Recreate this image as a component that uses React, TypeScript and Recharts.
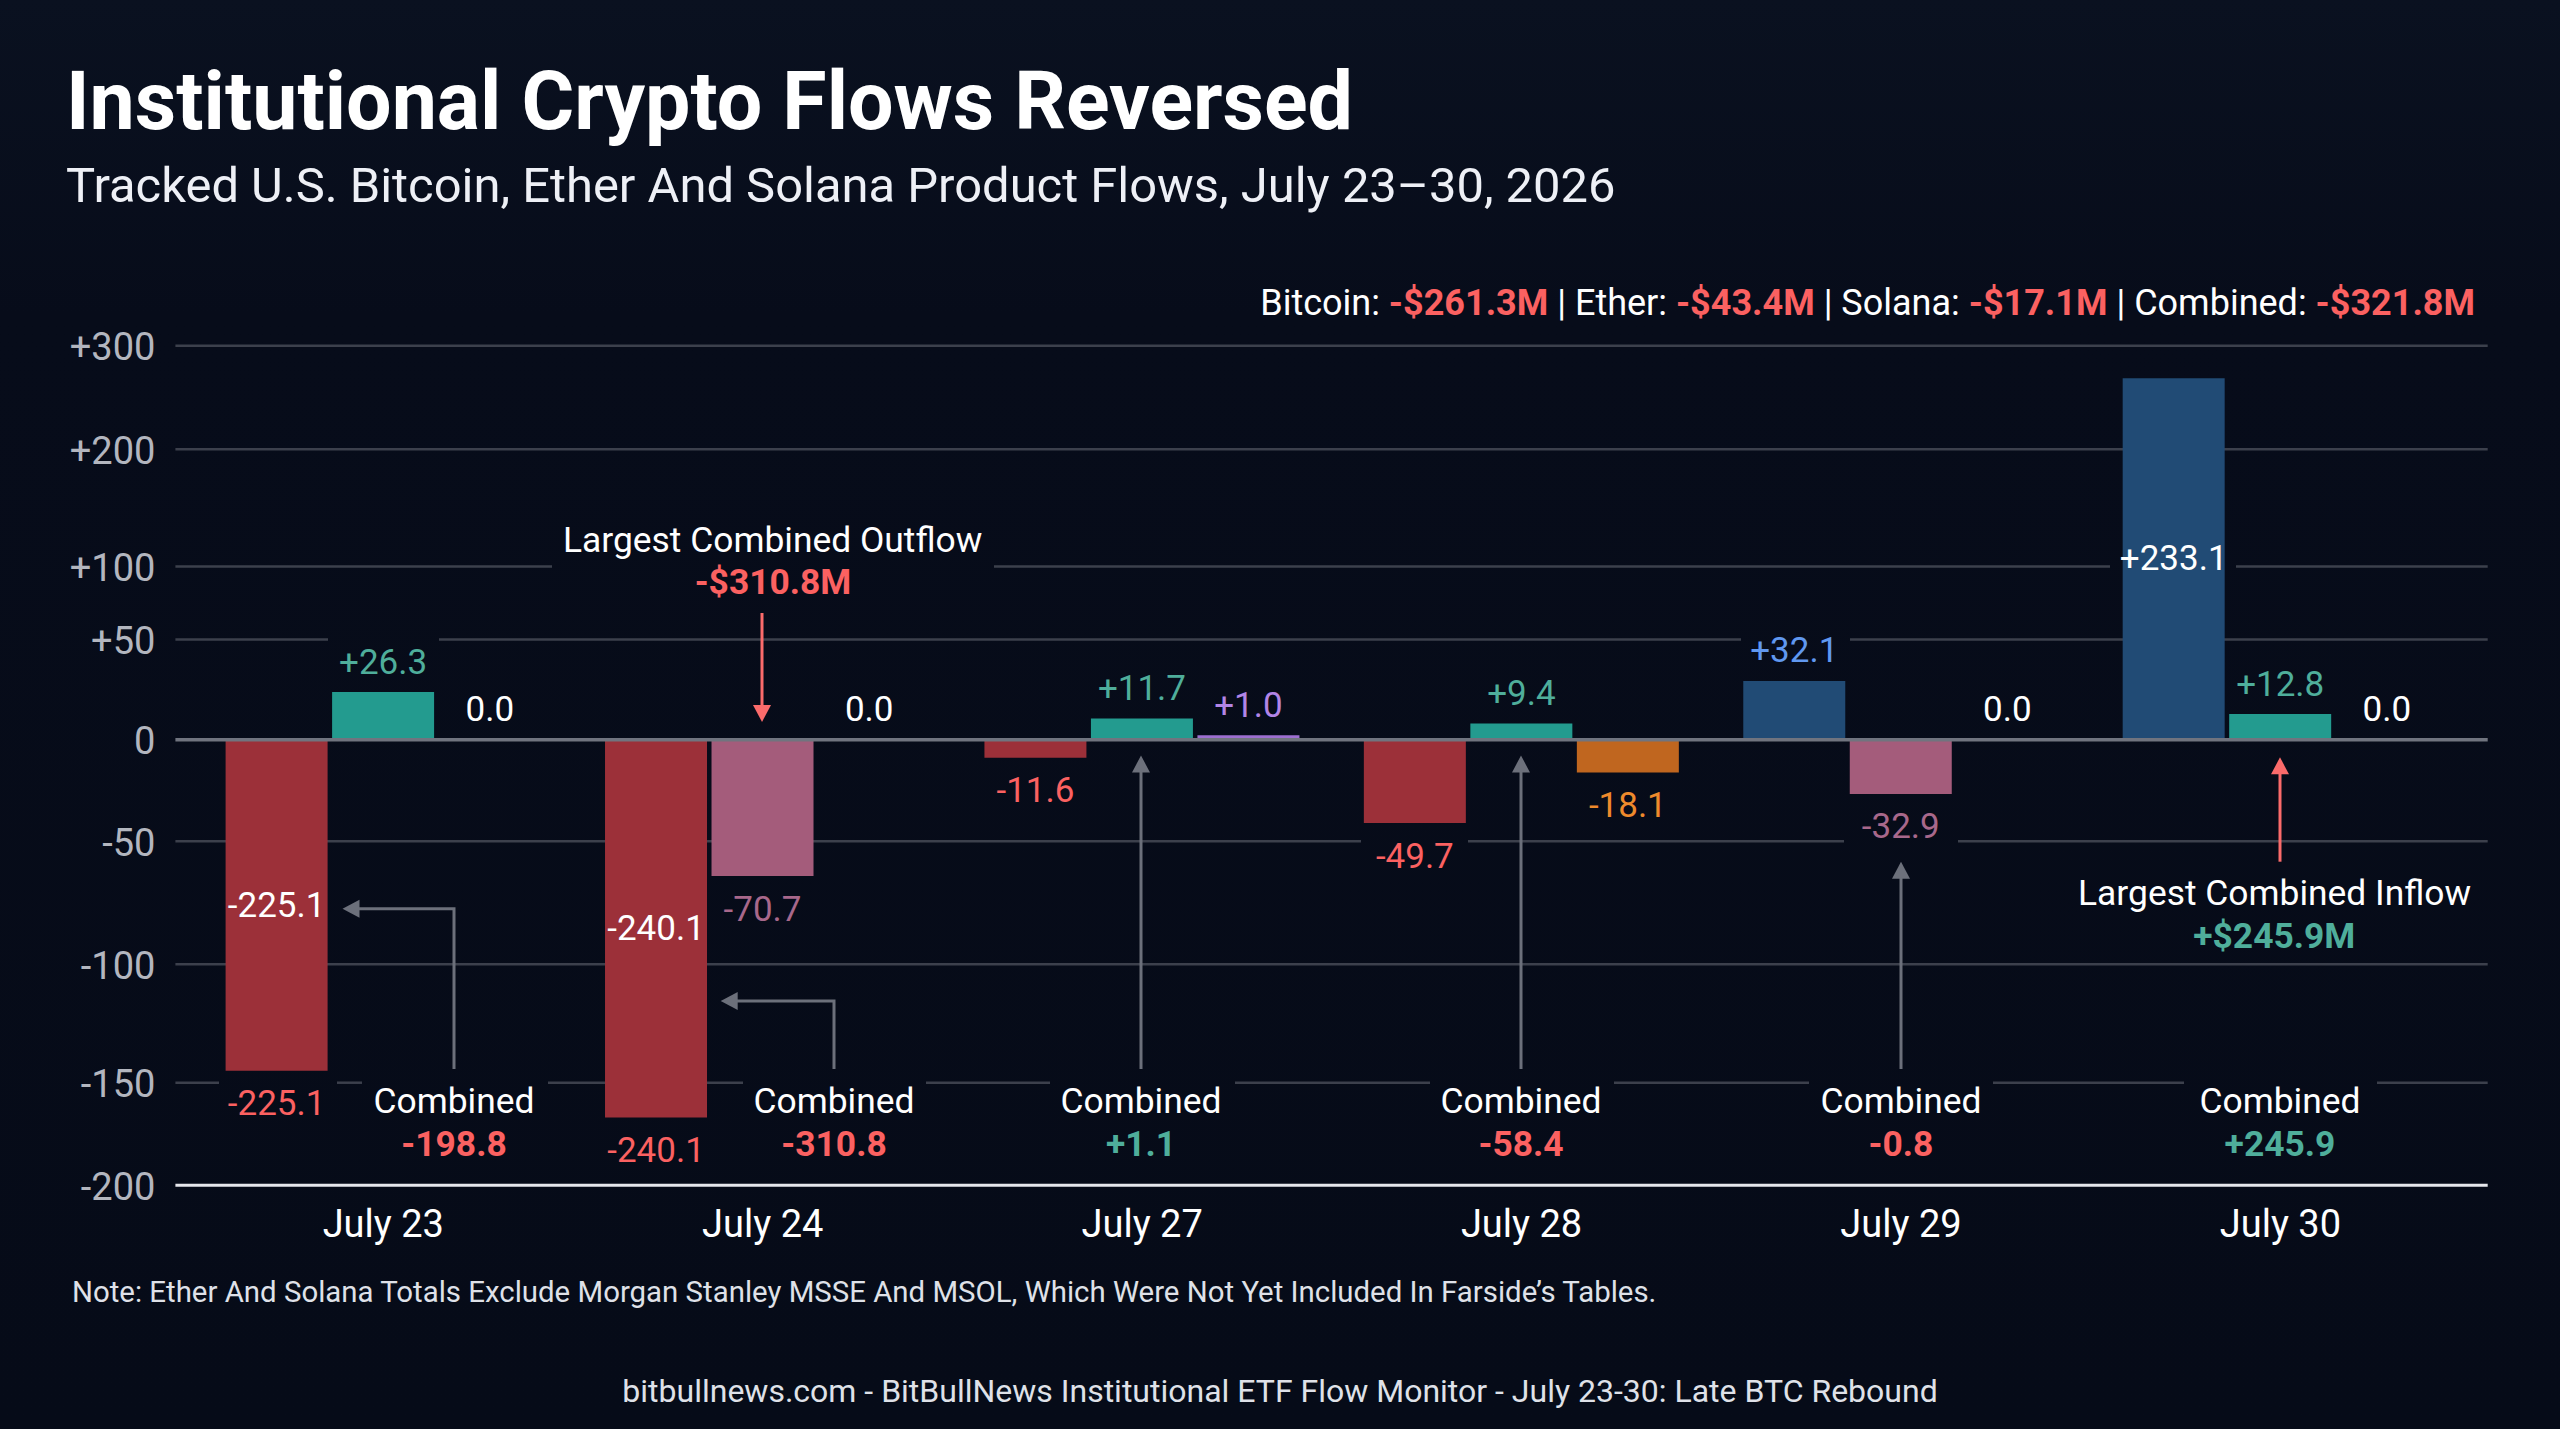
import { BarChart, Bar, XAxis, YAxis, CartesianGrid, Cell, LabelList, ReferenceLine } from 'recharts'

const days = ['July 23', 'July 24', 'July 27', 'July 28', 'July 29', 'July 30']

// printed on the picture
const bitcoinFlow = [-225.1, -240.1, -11.6, -49.7, 32.1, 233.1]
const etherFlow = [26.3, -70.7, 11.7, 9.4, -32.9, 12.8]
const solanaFlow = [0, 0, 1.0, -18.1, 0, 0]
const combinedFlow = [-198.8, -310.8, 1.1, -58.4, -0.8, 245.9]

// bar heights (the picture's axis does not match its labels)
const bitcoinHeight = [-144.9, -166.9, -8.9, -41.0, 29.3, 268.5]
const etherHeight = [23.8, -64.1, 10.5, 8.1, -26.7, 12.8]
const solanaHeight = [0, 0, 2.2, -16.2, 0, 0]

const bitcoinOutside = [true, true, true, true, true, false]
const bitcoinInside = [true, true, false, false, false, true]

const yTicks = [300, 200, 100, 50, 0, -50, -100, -150, -200]
// share of the plot height from the top, one per tick: the axis is not linear
const yTickShare = [0, 0.1234, 0.2629, 0.35, 0.4692, 0.5903, 0.7368, 0.8778, 1]

const RED = '#fb6161'
const GREEN = '#4fae9b'
const ARROW = '#6c707b'
const FONT = 'Roboto, sans-serif'

const plot = { left: 175.4, right: 2487.7, top: 345.7, bottom: 1185.3 }
const band = { left: 193.6, step: 379.4 }
const barStep = 106.5
const dayX = (i: number) => band.left + band.step * (i + 0.5)
const zeroY = plot.top + yTickShare[4] * (plot.bottom - plot.top)

function axisScale() {
  let dom = [-200, 300]
  let rng = [1, 0]
  const scale: any = (v: number) => {
    let share = yTickShare[yTickShare.length - 1]
    for (let i = 0; i < yTicks.length - 1; i++) {
      if (v <= yTicks[i] && v >= yTicks[i + 1]) {
        const t = (yTicks[i] - v) / (yTicks[i] - yTicks[i + 1])
        share = yTickShare[i] + t * (yTickShare[i + 1] - yTickShare[i])
        break
      }
    }
    return rng[1] + share * (rng[0] - rng[1])
  }
  scale.domain = (d?: number[]) => {
    if (!d) return dom
    dom = d
    return scale
  }
  scale.range = (r?: number[]) => {
    if (!r) return rng
    rng = r
    return scale
  }
  scale.ticks = () => yTicks
  scale.copy = () => axisScale().domain(dom).range(rng)
  return scale
}

// where the grid lines stop for a text box, per tick
const gridGaps: Record<number, number[][]> = {
  100: [[552, 994], [2110, 2236]],
  50: [[328, 439], [1741, 1850]],
  [-50]: [[1361, 1468], [1844, 1958]],
  [-150]: [[219, 337], [362, 548], [743, 926], [1050, 1235], [1430, 1614], [1809, 1993], [2184, 2377]],
}

function GridLine(props: any) {
  const { x1, x2, y1 } = props
  let tick = yTicks[0]
  yTicks.forEach((t, i) => {
    const y = plot.top + yTickShare[i] * (plot.bottom - plot.top)
    if (Math.abs(y - y1) < 2) tick = t
  })
  if (tick === 0 || tick === -200) return <g />
  const parts: number[][] = []
  let from = x1
  for (const [a, b] of gridGaps[tick] ?? []) {
    parts.push([from, a])
    from = b
  }
  parts.push([from, x2])
  return (
    <g>
      {parts.map(([a, b]) => (
        <line key={a} x1={a} x2={b} y1={y1} y2={y1} stroke="#3c404c" strokeWidth={2.5} />
      ))}
    </g>
  )
}

function fmt(v: number) {
  return (v > 0 ? '+' : '') + v.toFixed(1)
}

function makeLabel(printed: number[], up: string, down: string, offset: number, outside?: boolean[], inside?: boolean[]) {
  return function FlowLabel(props: any) {
    const box = props.viewBox ?? props
    const h = box.height ?? 0
    const top = Math.min(box.y, box.y + h)
    const bottom = Math.max(box.y, box.y + h)
    const x = box.x + box.width / 2
    // zero-height bars are dropped from the label list, so find the day from the position
    const i = Math.round((x - offset - band.left) / band.step - 0.5)
    const v = printed[i]
    const color = v > 0 ? up : down
    return (
      <g fontFamily={FONT} fontSize={35} textAnchor="middle" dominantBaseline="central">
        {(!outside || outside[i]) && (
          <text x={x} y={v < 0 ? bottom + 33 : top - 30} fill={color}>
            {fmt(v)}
          </text>
        )}
        {inside && inside[i] && (
          <text x={x} y={(top + bottom) / 2} fill="#ffffff">
            {fmt(v)}
          </text>
        )}
      </g>
    )
  }
}

function ArrowUp({ x, from, to, color }: { x: number; from: number; to: number; color: string }) {
  return (
    <g>
      <line x1={x} x2={x} y1={from} y2={to + 14} stroke={color} strokeWidth={3} />
      <polygon points={`${x},${to} ${x - 9},${to + 17} ${x + 9},${to + 17}`} fill={color} />
    </g>
  )
}

function ArrowDown({ x, from, to, color }: { x: number; from: number; to: number; color: string }) {
  return (
    <g>
      <line x1={x} x2={x} y1={from} y2={to - 14} stroke={color} strokeWidth={3} />
      <polygon points={`${x},${to} ${x - 9},${to - 17} ${x + 9},${to - 17}`} fill={color} />
    </g>
  )
}

function ArrowLeft({ x, from, to, y }: { x: number; from: number; to: number; y: number }) {
  return (
    <g>
      <polyline points={`${x},${from} ${x},${y} ${to + 14},${y}`} fill="none" stroke={ARROW} strokeWidth={3} />
      <polygon points={`${to},${y} ${to + 17},${y - 9} ${to + 17},${y + 9}`} fill={ARROW} />
    </g>
  )
}

const chartData = days.map((day, i) => ({
  day,
  bitcoin: bitcoinHeight[i],
  ether: etherHeight[i],
  solana: solanaHeight[i],
}))

const combinedX = [454, 834, 1141, 1521, 1901, 2280]

export default function App() {
  return (
    <div
      style={{
        position: 'absolute',
        left: 0,
        top: 0,
        width: 2560,
        height: 1429,
        background: 'linear-gradient(180deg, #0a1120 0%, #070c1a 22%, #060b18 100%)',
        overflow: 'hidden',
      }}
    >
      <BarChart
        width={2560}
        height={1429}
        data={chartData}
        barSize={102}
        barGap={4.5}
        margin={{ top: plot.top, right: 2560 - plot.right, left: 0, bottom: 1429 - plot.bottom - 70 }}
      >
        <CartesianGrid vertical={false} horizontal={(p: any) => <GridLine {...p} />} />
        <XAxis
          dataKey="day"
          height={70}
          padding={{ left: 18.2, right: 17.6 }}
          axisLine={{ stroke: '#e6e7ec', strokeWidth: 3 }}
          tickLine={false}
          tickSize={0}
          tickMargin={25}
          interval={0}
          tick={{ fill: '#ffffff', fontSize: 38, fontFamily: FONT }}
        />
        <YAxis
          type="number"
          width={plot.left}
          domain={[-200, 300]}
          scale={axisScale()}
          ticks={yTicks}
          interval={0}
          axisLine={false}
          tickLine={false}
          tickSize={0}
          tickMargin={20}
          tickFormatter={(v: number) => (v > 0 ? `+${v}` : `${v}`)}
          tick={{ fill: '#b3b6bf', fontSize: 38, fontFamily: FONT, dy: 1 }}
        />
        <Bar dataKey="bitcoin" isAnimationActive={false}>
          {bitcoinFlow.map((v, i) => (
            <Cell key={i} fill={v < 0 ? '#9c3039' : '#214b75'} />
          ))}
          <LabelList content={makeLabel(bitcoinFlow, '#6098f0', RED, -barStep, bitcoinOutside, bitcoinInside)} />
        </Bar>
        <Bar dataKey="ether" isAnimationActive={false}>
          {etherFlow.map((v, i) => (
            <Cell key={i} fill={v < 0 ? '#a45c7b' : '#239b8f'} />
          ))}
          <LabelList content={makeLabel(etherFlow, GREEN, '#a8688b', 0)} />
        </Bar>
        <Bar dataKey="solana" isAnimationActive={false}>
          {solanaFlow.map((v, i) => (
            <Cell key={i} fill={v < 0 ? '#c0661f' : '#9d6fd0'} />
          ))}
          <LabelList content={makeLabel(solanaFlow, '#b285e6', '#ee8a2c', barStep)} />
        </Bar>
        <ReferenceLine y={0} stroke="#70747f" strokeWidth={3.5} />

        <ArrowLeft x={454} from={1069} to={342.5} y={908.7} />
        <ArrowLeft x={834} from={1069} to={720.7} y={1001} />
        <ArrowUp x={combinedX[2]} from={1069} to={755.5} color={ARROW} />
        <ArrowUp x={combinedX[3]} from={1069} to={755.5} color={ARROW} />
        <ArrowUp x={combinedX[4]} from={1069} to={861.7} color={ARROW} />
        <ArrowUp x={2280} from={861.7} to={757.3} color="#fb6b6b" />
        <ArrowDown x={762} from={613} to={722} color="#fb6b6b" />

        <g fontFamily={FONT} textAnchor="middle" dominantBaseline="central" fontSize={35.4}>
          {solanaFlow.map((v, i) =>
            v === 0 ? (
              <text key={days[i]} x={dayX(i) + barStep} y={zeroY - 30} fontSize={35} fill="#ffffff">
                {fmt(v)}
              </text>
            ) : null,
          )}
          {combinedFlow.map((v, i) => (
            <g key={days[i]}>
              <text x={combinedX[i]} y={1101} fill="#ffffff">
                Combined
              </text>
              <text x={combinedX[i]} y={1144} fill={v < 0 ? RED : GREEN} fontWeight={700}>
                {fmt(v)}
              </text>
            </g>
          ))}
          <text x={772.6} y={540} fill="#ffffff">
            Largest Combined Outflow
          </text>
          <text x={773} y={582} fill={RED} fontWeight={700}>
            -$310.8M
          </text>
          <text x={2274.6} y={893} fill="#ffffff">
            Largest Combined Inflow
          </text>
          <text x={2274.3} y={936} fill={GREEN} fontWeight={700}>
            +$245.9M
          </text>
        </g>

        <text x={66} y={129} fill="#ffffff" fontFamily={FONT} fontWeight={700} fontSize={80.7}>
          Institutional Crypto Flows Reversed
        </text>
        <text x={66} y={202} fill="#eef0f6" fontFamily={FONT} fontSize={48.9}>
          Tracked U.S. Bitcoin, Ether And Solana Product Flows, July 23–30, 2026
        </text>
        <text x={2475} y={303} textAnchor="end" dominantBaseline="central" fill="#ffffff" fontFamily={FONT} fontSize={36}>
          Bitcoin: <tspan fill={RED} fontWeight={700}>-$261.3M</tspan> | Ether:{' '}
          <tspan fill={RED} fontWeight={700}>-$43.4M</tspan> | Solana:{' '}
          <tspan fill={RED} fontWeight={700}>-$17.1M</tspan> | Combined:{' '}
          <tspan fill={RED} fontWeight={700}>-$321.8M</tspan>
        </text>
        <text x={72} y={1292} dominantBaseline="central" fill="#dfe1e8" fontFamily={FONT} fontSize={29.4}>
          Note: Ether And Solana Totals Exclude Morgan Stanley MSSE And MSOL, Which Were Not Yet Included In Farside’s Tables.
        </text>
        <text x={1280} y={1391} textAnchor="middle" dominantBaseline="central" fill="#dfe1e8" fontFamily={FONT} fontSize={32}>
          bitbullnews.com - BitBullNews Institutional ETF Flow Monitor - July 23-30: Late BTC Rebound
        </text>
      </BarChart>
    </div>
  )
}
